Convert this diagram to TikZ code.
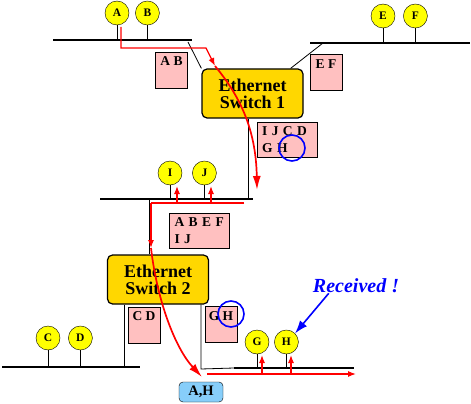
\documentclass[tikz,border=0pt]{standalone}
\usepackage{fontspec}
\setmainfont{Liberation Serif}
\usetikzlibrary{arrows.meta,positioning,calc}
\definecolor{hostyellow}{RGB}{255,255,0}
\definecolor{switchgold}{RGB}{255,215,0}
\definecolor{tablepink}{RGB}{255,192,192}
\definecolor{framecyan}{RGB}{135,206,250}
\definecolor{flowred}{RGB}{255,0,0}
\definecolor{markblue}{RGB}{0,0,255}

\begin{document}
\begin{tikzpicture}[
      x=1pt, y=-1pt,
      host/.style={circle, draw=black, thin, fill=hostyellow, minimum size=24pt, inner sep=0pt,
        font=\bfseries\fontsize{11.5}{13}\selectfont},
      switchbox/.style={rectangle, rounded corners=5pt, draw=black, line width=1.2pt, fill=switchgold,
        minimum width=101pt, minimum height=49pt, align=center, inner sep=0pt,
        font=\bfseries\fontsize{18}{17}\selectfont},
      tbl/.style={rectangle, draw=black, thin, fill=tablepink, font=\bfseries\fontsize{13.5}{17}\selectfont},
      tblone/.style={tbl, minimum width=32pt, inner xsep=2pt, inner ysep=4pt, text height=9.5pt, text depth=18.5pt},
      tbltwo/.style={tbl, align=left, inner xsep=5pt, inner ysep=3pt, text width=50pt, minimum height=35pt},
      frame/.style={rectangle, rounded corners=4pt, draw=black, thin, fill=framecyan,
        minimum width=44pt, minimum height=20pt, inner sep=0pt, font=\bfseries\fontsize{14.5}{15}\selectfont},
      ring/.style={circle, draw=markblue, line width=1.6pt, minimum size=26pt, inner sep=0pt},
      note/.style={inner sep=0pt, text=markblue, font=\bfseries\itshape\fontsize{20}{22}\selectfont},
      lan/.style={line width=1.5pt},
      thicklan/.style={line width=2.6pt},
      wire/.style={line width=0.8pt},
      flow/.style={draw=flowred, line width=1.2pt},
      flowarr/.style={flow, -{Latex[length=8pt,width=6pt]}},
      bigarr/.style={draw=flowred, line width=1.7pt, -{Latex[length=14pt,width=8pt]}},
      pointer/.style={draw=markblue, line width=1.6pt, -{Latex[length=13pt,width=9pt]}},
    ]
    \useasboundingbox (0,0) rectangle (471,404);

    % segments
    \coordinate (lanab-w) at (53,40);
    \coordinate (lanab-e) at (192,40);
    \coordinate (lanef-w) at (310,43);
    \coordinate (lanef-e) at (470,43);
    \coordinate (lanij-w) at (100,199);
    \coordinate (lanij-e) at (253,199);
    \coordinate (lancd-w) at (2,367);
    \coordinate (lancd-e) at (140,367);
    \coordinate (langh-w) at (234,368);
    \coordinate (langh-e) at (354,368);

    \draw[lan] (lanab-w) -- (lanab-e);
    \draw[thicklan] (lanef-w) -- (lanef-e);
    \draw[lan] (lanij-w) -- (lanij-e);
    \draw[lan] (lancd-w) -- (lancd-e);
    \draw[thicklan] (langh-w) -- (langh-e);

    % hosts
    \node[host] (hA) at (117,13) {A};
    \node[host, right=6pt of hA] (hB) {B};
    \node[host] (hE) at (383,16) {E};
    \node[host, right=8pt of hE] (hF) {F};
    \node[host] (hI) at (170,173) {I};
    \node[host, right=10pt of hI] (hJ) {J};
    \node[host] (hC) at (48,338) {C};
    \node[host, right=8pt of hC] (hD) {D};
    \node[host] (hG) at (257,342) {G};
    \node[host, right=5pt of hG] (hH) {H};

    \draw[wire] (hA) -- (hA |- lanab-w);
    \draw[wire] (hB) -- (hB |- lanab-w);
    \draw[wire] (hE) -- (hE |- lanef-w);
    \draw[wire] (hF) -- (hF |- lanef-w);
    \draw[wire] (hI) -- (hI |- lanij-w);
    \draw[wire] (hJ) -- (hJ |- lanij-w);
    \draw[wire] (hC) -- (hC |- lancd-w);
    \draw[wire] (hD) -- (hD |- lancd-w);
    \draw[wire] (hG) -- (hG |- langh-w);
    \draw[wire] (hH) -- (hH |- langh-w);

    % switches
    \node[switchbox] (sw1) at (252.5,93.5) {Ethernet\\Switch 1};
    \node[switchbox] (sw2) at (158,279.5) {Ethernet\\Switch 2};

    \coordinate (tapef) at (323,43);
    \coordinate (tapij1) at (248,199);
    \coordinate (tapij2) at (149,199);
    \coordinate (tapcd) at (124,367);
    \coordinate (tapgh) at (201,369);

    \draw[wire] ($(lanab-e)+(-4,2)$) -- (sw1.north west);
    \draw[wire] ($(sw1.north east)+(-13,0)$) -- (tapef);
    \draw[wire] (tapij1 |- sw1.south) -- (tapij1);
    \draw[wire] (tapij2) -- (tapij2 |- sw2.north);
    \draw[wire] (tapcd |- sw2.south) -- (tapcd);
    \draw[wire] (tapgh |- sw2.south) -- (tapgh) -- (langh-w);

    % tables
    \node[tblone] (tabab) at (171.5,70) {A B};
    \node[tblone] (tabef) at (326,72.5) {E F};
    \node[tbltwo] (tabsw1) at (287,139.5) {I J C D\\G H};
    \node[tbltwo] (tabsw2) at (199.5,231) {A B E F\\I J};
    \node[tblone] (tabcd) at (144,325) {C D};
    \node[tblone] (tabgh) at (221,324.5) {G H};

    \node[ring] (ring1) at (292,148) {};
    \node[ring] (ring2) at (231,314) {};

    % frame path
    \coordinate (fa0) at (121,27);
    \coordinate (fa1) at (206,48);
    \coordinate (fa2) at (215,66);
    \coordinate (fa3) at (257,190);
    \draw[flowarr] (fa0) |- (fa1) -- (fa2);
    \draw[bigarr] (fa2) .. controls (239,95) and (256,128) .. (fa3);

    \coordinate (fb0) at (244,203);
    \coordinate (fb1) at (151,203);
    \coordinate (fb2) at (151,248);
    \coordinate (fi) at (177,186);
    \coordinate (fj) at (211,186);
    \draw[flow] (fb0) -- (fb1);
    \draw[flowarr] (fb1) -- (fb2);
    \draw[flowarr] (fi |- fb1) -- (fi);
    \draw[flowarr] (fj |- fb1) -- (fj);

    \coordinate (fc0) at (202,377);
    \draw[bigarr] (fb2) .. controls (157,300) and (175,348) .. (fc0);

    \coordinate (fd0) at (207,374);
    \coordinate (fd1) at (356,374);
    \coordinate (fg) at (262,355);
    \coordinate (fh) at (291,355);
    \draw[flowarr] (fd0) -- (fd1);
    \draw[flowarr] (fg |- fd0) -- (fg);
    \draw[flowarr] (fh |- fd0) -- (fh);

    \node[frame] (frm) at (201,392) {A,H};

    \node[note] (recv) at (356,286) {Received !};
    \draw[pointer] ($(recv.south west)+(16,0)$) -- (hH.north east);
  \end{tikzpicture}
\end{document}
